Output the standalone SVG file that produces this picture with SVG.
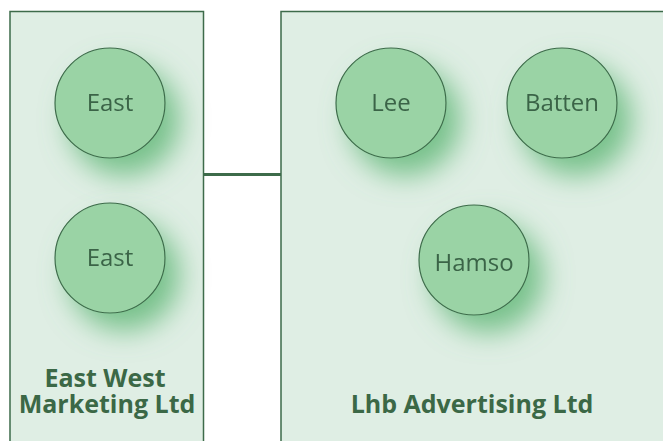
<svg xmlns="http://www.w3.org/2000/svg" width="663" height="441" viewBox="0 0 663 441">
  <style>
    .panel { fill: #dfeee4; stroke: #3d6b4a; stroke-width: 1.5; }
    .node { fill: #9ad3a5; stroke: #3d6b4a; stroke-width: 1.2; }
    .ntext { font-family: "Open Sans", "Noto Sans", sans-serif; font-size: 24px; fill: #3a6447; text-anchor: middle; }
    .ptext { font-family: "Open Sans", "Noto Sans", sans-serif; font-size: 25px; font-weight: bold; fill: #3b6846; text-anchor: middle; }
    .conn { stroke: #3d6b4a; stroke-width: 3; fill: none; }
  </style>
  <defs>
    <filter id="shadow" x="-70%" y="-70%" width="240%" height="240%">
      <feGaussianBlur in="SourceAlpha" stdDeviation="14"/>
      <feOffset dx="14" dy="17" result="b"/>
      <feFlood flood-color="#72bf86" flood-opacity="0.95"/>
      <feComposite in2="b" operator="in" result="s"/>
      <feMerge>
        <feMergeNode in="s"/>
        <feMergeNode in="SourceGraphic"/>
      </feMerge>
    </filter>
  </defs>
  <rect width="663" height="441" fill="#ffffff"/>
  <g id="panel-eastwest">
    <rect class="panel" x="10" y="11.5" width="193.5" height="440"/>
    <text class="ptext"><tspan x="105" y="387">East West</tspan><tspan x="107" y="413">Marketing Ltd</tspan></text>
  </g>
  <g id="panel-lhb">
    <rect class="panel" x="281" y="11.5" width="400" height="440"/>
    <text class="ptext" x="472" y="413">Lhb Advertising Ltd</text>
  </g>
  <g id="connectors">
    <line class="conn" x1="203.5" y1="174.5" x2="281" y2="174.5"/>
  </g>
  <g id="node-east1" filter="url(#shadow)">
    <circle class="node" cx="110" cy="103" r="55"/>
    <text class="ntext" x="110" y="111.3">East</text>
  </g>
  <g id="node-east2" filter="url(#shadow)">
    <circle class="node" cx="110" cy="258" r="55"/>
    <text class="ntext" x="110" y="266">East</text>
  </g>
  <g id="node-lee" filter="url(#shadow)">
    <circle class="node" cx="391" cy="103" r="55"/>
    <text class="ntext" x="391" y="111">Lee</text>
  </g>
  <g id="node-batten" filter="url(#shadow)">
    <circle class="node" cx="562" cy="103" r="55"/>
    <text class="ntext" x="562" y="111">Batten</text>
  </g>
  <g id="node-hamso" filter="url(#shadow)">
    <circle class="node" cx="474" cy="260" r="55"/>
    <text class="ntext" x="474" y="271">Hamso</text>
  </g>
</svg>
